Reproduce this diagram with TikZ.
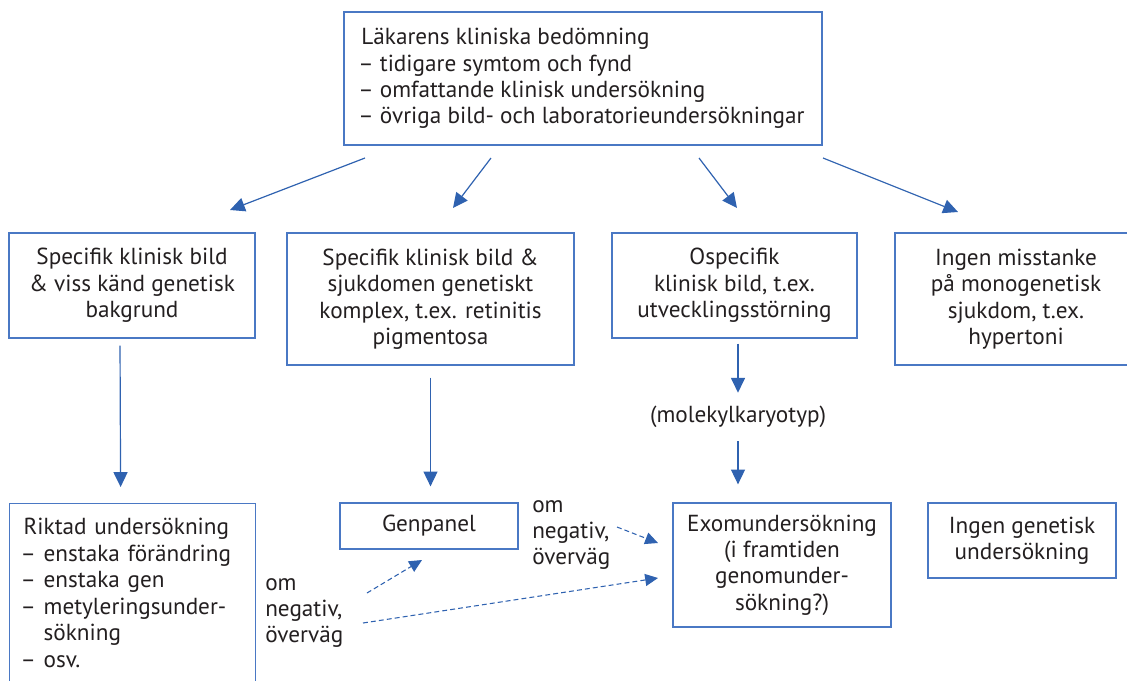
\documentclass[tikz,border=0pt]{standalone}
\usepackage{fontspec}
\setmainfont{PT Sans}
\usetikzlibrary{positioning, arrows.meta, calc}
\definecolor{frameblue}{HTML}{4A78C4}
\definecolor{arrowblue}{HTML}{2F62B0}
\definecolor{inkgray}{HTML}{231F20}
\newcommand{\listdash}{\mbox{\kern-0.13em–}}

\begin{document}
\begin{tikzpicture}[
    x=0.025cm, y=-0.025cm,
    every node/.style={font=\fontsize{16.5}{18.8}\selectfont, text=inkgray},
    box/.style={draw=frameblue, line width=0.9pt, align=center, inner sep=0pt},
    listbox/.style={box, align=left, anchor=north west, inner xsep=0.35cm, inner ysep=0.37cm},
    arr/.style={-{Triangle[length=0.37cm, width=0.35cm]}, arrowblue, line width=0.85pt},
    trial/.style={-{Triangle[length=0.32cm, width=0.3cm]}, arrowblue, line width=0.75pt, dash pattern=on 3.5pt off 2.2pt},
    note/.style={align=left, anchor=west, inner sep=0pt},
]
\fill[white] (0,0) rectangle (1127,680);
\clip (0,0) rectangle (1127,680);

% Assessment
\node[box, align=left, minimum width=11.95cm, minimum height=3.325cm] (assess) at (583,78.5)
  {Läkarens kliniska bedömning\\\listdash{} tidigare symtom och fynd\\\listdash{} omfattande klinisk undersökning\\\listdash{} övriga bild- och laboratorieundersökningar};

% Row 2: clinical picture
\node[box, minimum width=6.15cm, minimum height=2.625cm] (known) at (132,285.5) {Specifik klinisk bild\\\& viss känd genetisk\\bakgrund};
\node[box, minimum width=7.175cm, minimum height=3.3cm] (complex) at (430.5,299) {Specifik klinisk bild \&\\sjukdomen genetiskt\\komplex, t.ex. retinitis\\pigmentosa};
\node[box, minimum width=6.125cm, minimum height=2.625cm] (unspec) at (734.5,285.5) {Ospecifik\\klinisk bild, t.ex.\\utvecklingsstörning};
\node[box, minimum width=6.05cm, minimum height=3.3cm] (nosusp) at (1016,299) {Ingen misstanke\\på monogenetisk\\sjukdom, t.ex.\\hypertoni};

\coordinate (a1s) at (365,158); \coordinate (a1e) at (230,210);
\coordinate (a2s) at (491,158); \coordinate (a2e) at (453,208);
\coordinate (a3s) at (699,158); \coordinate (a3e) at (737,208);
\coordinate (a4s) at (823,158); \coordinate (a4e) at (958,212);
\draw[arr] (a1s) -- (a1e);
\draw[arr] (a2s) -- (a2e);
\draw[arr] (a3s) -- (a3e);
\draw[arr] (a4s) -- (a4e);

% Row 3: tests
\node[listbox, text width=5.45cm, text depth=5cm] (targeted) at (9,503)
  {Riktad undersökning\\\listdash{} enstaka förändring\\\listdash{} enstaka gen\\\listdash{} metyleringsunder-\\\phantom{\listdash{} }sökning\\\listdash{} osv.};
\node[box, minimum width=4.45cm, minimum height=1.15cm] (panel) at (429,526) {Genpanel};
\node[box, minimum width=5.45cm, minimum height=3.1cm] (exome) at (782,565) {Exomundersökning\\(i framtiden\\genomunder-\\sökning?)};
\node[box, minimum width=4.7cm, minimum height=1.875cm] (notest) at (1022,540.5) {Ingen genetisk\\undersökning};

\node[inner xsep=0pt, inner ysep=0.33cm] (karyo) at (738,417) {(molekylkaryotyp)};
\node[note] (ifneg1) at (265,613) {om\\negativ,\\överväg};
\node[note] (ifneg2) at (532,535) {om\\negativ,\\överväg};

\draw[arr, shorten <=0.175cm, shorten >=0.4cm] ([xshift=-0.3cm]known.south) -- ([xshift=-0.3cm]targeted.north);
\draw[arr, shorten <=0.3cm, shorten >=0.4cm] (complex.south) -- (complex.south |- panel.north);
\draw[arr, shorten <=0.125cm] (karyo.north |- unspec.south) -- (karyo.north);
\draw[arr, shorten >=0.45cm] (karyo.south) -- (karyo.south |- exome.north);

% if negative
\coordinate (d1s) at (367,593); \coordinate (d1e) at (422,560);
\coordinate (d2s) at (363,623); \coordinate (d2e) at (658,578);
\coordinate (d3s) at (617,527); \coordinate (d3e) at (658,543);
\draw[trial] (d1s) -- (d1e);
\draw[trial] (d2s) -- (d2e);
\draw[trial] (d3s) -- (d3e);
\end{tikzpicture}
\end{document}
